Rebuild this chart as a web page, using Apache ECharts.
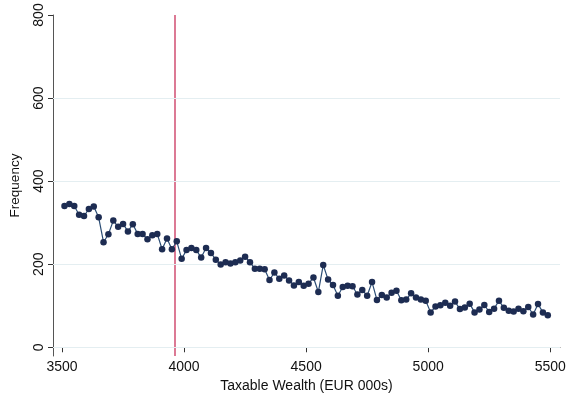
<!DOCTYPE html>
<html>
<head>
<meta charset="utf-8">
<script src="https://cdn.jsdelivr.net/npm/echarts@6/dist/echarts.min.js"></script>
<style>
  html, body { margin: 0; padding: 0; background: #fff; }
  #chart { width: 571px; height: 401px; }
</style>
</head>
<body>
<div id="chart"></div>
<script>
  // bins of 20 (EUR 000s), first bin centre at 3510
  const binStart = 3510
  const binWidth = 20
  const frequency = [
    340, 345, 340, 319, 316, 333, 339, 313, 253, 272,
    305, 290, 297, 279, 296, 273, 273, 260, 270, 273,
    236, 262, 236, 255, 213, 234, 239, 234, 216, 239,
    227, 211, 199, 205, 202, 205, 209, 218, 205, 189,
    189, 188, 162, 180, 165, 173, 161, 149, 157, 148,
    153, 168, 133, 198, 163, 150, 124, 145, 148, 147,
    127, 138, 124, 157, 114, 126, 120, 131, 136, 113,
    115, 130, 120, 115, 112, 84, 98, 101, 107, 100,
    110, 92, 96, 105, 84, 91, 102, 85, 93, 112,
    95, 88, 86, 93, 87, 97, 79, 104, 84, 77
  ]
  const xTicks = [3500, 4000, 4500, 5000, 5500]
  const yTicks = [0, 200, 400, 600, 800]
  const yGrid = [0, 200, 400, 600]
  const threshold = 3960

  const points = frequency.map((v, i) => [binStart + i * binWidth, v])

  const labelFont = { fontFamily: 'Liberation Sans, Arial, sans-serif', fontSize: 14, color: '#111' }

  const chart = echarts.init(document.getElementById('chart'), null, { renderer: 'canvas' })
  chart.setOption({
    animation: false,
    backgroundColor: '#ffffff',
    grid: { left: 51, right: 11, top: 15, bottom: 45 },
    xAxis: {
      type: 'value',
      min: 3463,
      max: 5540,
      name: 'Taxable Wealth (EUR 000s)',
      nameLocation: 'middle',
      nameGap: 22,
      nameTextStyle: labelFont,
      axisLine: { show: true, lineStyle: { color: '#555', width: 1 } },
      axisTick: { show: true, length: 5, customValues: xTicks, lineStyle: { color: '#333' } },
      axisLabel: { ...labelFont, margin: 4, customValues: xTicks, formatter: v => String(v) },
      splitLine: { show: false },
    },
    yAxis: {
      type: 'value',
      min: -21,
      max: 800,
      name: 'Frequency',
      nameLocation: 'middle',
      nameGap: 31,
      nameTextStyle: { ...labelFont, fontSize: 13.5 },
      axisLine: { show: true, lineStyle: { color: '#555', width: 1 } },
      axisTick: { show: true, length: 5, customValues: yTicks, lineStyle: { color: '#333' } },
      axisLabel: { ...labelFont, rotate: 90, margin: 7, customValues: yTicks, formatter: v => String(v) },
      splitLine: { show: false },
    },
    series: [
      {
        type: 'line',
        data: points,
        symbol: 'circle',
        symbolSize: 6.5,
        showSymbol: true,
        lineStyle: { color: '#2a4c74', width: 1.2 },
        itemStyle: { color: '#1d2c52' },
        z: 5,
        markLine: {
          silent: true,
          symbol: 'none',
          label: { show: false },
          data: [{ xAxis: threshold, lineStyle: { color: '#d4587a', width: 1.6, type: 'solid' } }]
            .concat(yGrid.map(v => ({ yAxis: v, lineStyle: { color: '#e4eef1', width: 1, type: 'solid' } }))),
        },
      },
    ],
  })
</script>
</body>
</html>
